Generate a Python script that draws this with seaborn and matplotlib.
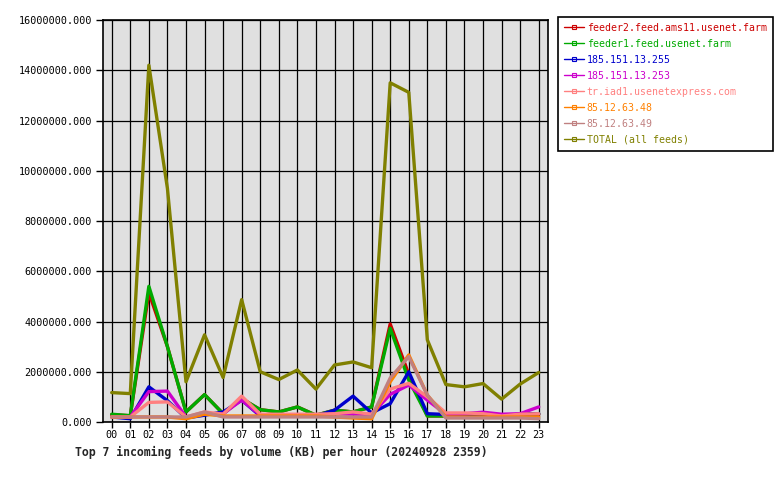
import pandas as pd
import seaborn as sns
import matplotlib.pyplot as plt
from matplotlib.lines import Line2D
from matplotlib.ticker import FormatStrFormatter

# hourly incoming volume per feed (KB)
hours = ['00', '01', '02', '03', '04', '05', '06', '07', '08', '09', '10', '11',
         '12', '13', '14', '15', '16', '17', '18', '19', '20', '21', '22', '23']

feeder2 = [290000, 250000, 5150000, 3000000, 400000, 1090000, 330000, 930000, 490000, 400000, 600000, 270000,
           470000, 400000, 600000, 3900000, 1900000, 240000, 240000, 260000, 260000, 230000, 290000, 300000]
feeder1 = [310000, 250000, 5400000, 3000000, 400000, 1090000, 330000, 930000, 490000, 400000, 600000, 270000,
           470000, 400000, 600000, 3730000, 1670000, 240000, 240000, 260000, 260000, 230000, 320000, 330000]
ip_255 = [200000, 130000, 1400000, 850000, 160000, 270000, 400000, 870000, 240000, 240000, 240000, 240000,
          470000, 1030000, 360000, 730000, 2000000, 330000, 300000, 270000, 270000, 230000, 300000, 330000]
ip_253 = [200000, 200000, 1210000, 1230000, 200000, 330000, 330000, 870000, 270000, 240000, 270000, 230000,
          330000, 310000, 310000, 1100000, 1470000, 870000, 310000, 330000, 390000, 310000, 330000, 600000]
usenetexpress = [200000, 200000, 780000, 800000, 200000, 400000, 310000, 1030000, 310000, 310000, 310000, 310000,
                 330000, 400000, 310000, 1310000, 1540000, 1000000, 360000, 360000, 330000, 240000, 310000, 330000]
ip_48 = [200000, 200000, 200000, 200000, 130000, 310000, 240000, 240000, 240000, 240000, 240000, 240000,
         200000, 160000, 130000, 1600000, 2670000, 1070000, 200000, 200000, 200000, 200000, 200000, 200000]
ip_49 = [200000, 200000, 200000, 200000, 200000, 400000, 200000, 200000, 200000, 200000, 200000, 200000,
         200000, 200000, 200000, 1750000, 2600000, 1070000, 160000, 160000, 160000, 160000, 160000, 130000]
total = [1170000, 1130000, 14200000, 9300000, 1600000, 3470000, 1770000, 4870000, 2000000, 1690000, 2070000, 1310000,
         2270000, 2390000, 2160000, 13500000, 13120000, 3270000, 1490000, 1400000, 1530000, 910000, 1510000, 1970000]

feeds = ['feeder2.feed.ams11.usenet.farm', 'feeder1.feed.usenet.farm', '185.151.13.255', '185.151.13.253',
         'tr.iad1.usenetexpress.com', '85.12.63.48', '85.12.63.49', 'TOTAL (all feeds)']
series = [feeder2, feeder1, ip_255, ip_253, usenetexpress, ip_48, ip_49, total]
colors = ['#cc0000', '#00aa00', '#0000cc', '#cc00cc', '#ff8080', '#ff8000', '#c08080', '#808000']

rows = []
for name, vals in zip(feeds, series):
    for i, v in enumerate(vals):
        rows.append({'hour': i, 'feed': name, 'kb': v})
df = pd.DataFrame(rows)

sns.set_style('white')
plt.rcParams['font.family'] = ['DejaVu Sans Mono']

fig = plt.figure(figsize=(7.8, 4.8), dpi=100)
ax = fig.add_axes([103 / 780, 1 - 422 / 480, 445 / 780, 402 / 480])
ax.set_facecolor('#e0e0e0')

palette = dict(zip(feeds, colors))
sns.lineplot(data=df, x='hour', y='kb', hue='feed', hue_order=feeds, palette=palette,
             linewidth=2.4, legend=False, ax=ax)

ax.set_xlim(-0.47, 23.5)
ax.set_ylim(0, 16000000)
ax.set_xticks(range(24))
ax.set_xticklabels(hours)
ax.set_yticks(range(0, 16000001, 2000000))
ax.yaxis.set_major_formatter(FormatStrFormatter('%.3f'))
ax.grid(True, color='black', linewidth=0.9)
ax.set_axisbelow(True)
ax.tick_params(axis='both', direction='out', length=5, width=1, color='black',
               labelsize=7.3, labelcolor='black', pad=3)
ax.tick_params(axis='x', length=4, pad=2)
ax.tick_params(left=True, bottom=True)
for s in ax.spines.values():
    s.set_color('black')
    s.set_linewidth(1.2)
ax.set_xlabel('')
ax.set_ylabel('')

fig.text(75 / 780, 1 - 452 / 480, 'Top 7 incoming feeds by volume (KB) per hour (20240928 2359)',
         fontsize=8.3, fontweight='bold', va='center', ha='left')

handles = [Line2D([], [], color=c, lw=1, marker='s', markersize=3, markerfacecolor='none',
                  markeredgewidth=0.8) for c in colors]
leg = fig.legend(handles, feeds, loc='upper left', bbox_to_anchor=(558 / 780, 1 - 17 / 480),
                 bbox_transform=fig.transFigure, borderaxespad=0, fontsize=7.15, labelcolor=colors,
                 frameon=True, fancybox=False, edgecolor='black', framealpha=1,
                 handlelength=2.0, handletextpad=0.3, labelspacing=0.6, borderpad=0.6)
leg.get_frame().set_linewidth(1.2)

fig.savefig('out.png', dpi=100, facecolor='white')
